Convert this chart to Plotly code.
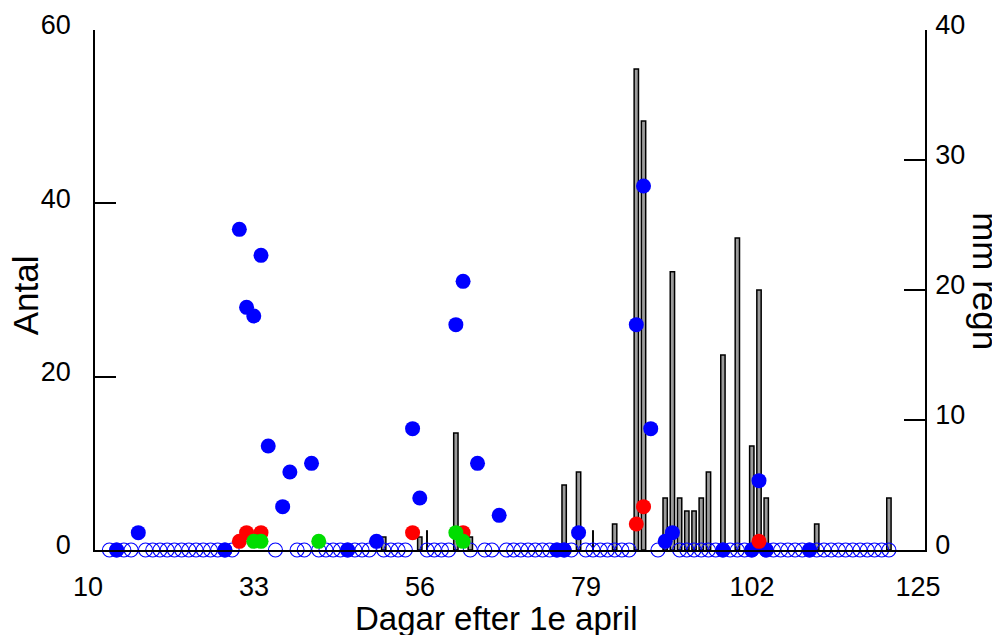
import plotly.graph_objects as go

# ---- data ----
rain_days = [50, 55, 60, 62, 75, 77, 82, 85, 86, 89, 90, 91, 92, 93, 94, 95, 97, 99, 101, 102, 103, 110, 120]
rain_mm = [1, 1, 9, 1, 5, 6, 2, 37, 33, 4, 21.4, 4, 3, 3, 4, 6, 15, 24, 8, 20, 4, 2, 4]
thin_days = [56, 79]
thin_mm = [1.5, 1.5]

blue_days = [13, 16, 28, 30, 31, 32, 33, 34, 36, 37, 40, 45, 49, 54, 55, 60, 61, 63, 66, 74, 75, 77,
             85, 86, 87, 89, 90, 97, 101, 102, 103, 109]
blue_vals = [0, 2, 0, 37, 28, 27, 34, 12, 5, 9, 10, 0, 1, 14, 6, 26, 31, 10, 4, 0, 0, 2,
             26, 42, 14, 1, 2, 0, 0, 8, 0, 0]

red_days = [30, 31, 33, 54, 61, 85, 86, 102]
red_vals = [1, 2, 2, 2, 2, 3, 5, 1]

green_days = [32, 33, 41, 60, 61]
green_vals = [1, 1, 1, 2, 1]

open_days = [12, 13, 14, 15, 17, 18, 19, 20, 21, 22, 23, 24, 25, 26, 27, 28, 29, 35, 38, 39, 41, 42, 43, 44,
             45, 46, 47, 48, 50, 51, 52, 53, 56, 57, 58, 59, 62, 64, 65, 67, 68, 69, 70, 71, 72, 73, 74, 75,
             76, 78, 79, 80, 81, 82, 83, 84, 88, 91, 92, 93, 94, 95, 96, 97, 98, 99, 100, 101, 103, 104, 105,
             106, 107, 108, 109, 110, 111, 112, 113, 114, 115, 116, 117, 118, 119, 120]
open_vals = [0] * len(open_days)

x_ticks = [10, 33, 56, 79, 102, 125]
left_ticks = [0, 20, 40, 60]
right_ticks = [0, 10, 20, 30, 40]

FONT = "Liberation Sans, Arial, sans-serif"

fig = go.Figure()

# rain bars (primary y axis, drawn on the right side)
fig.add_trace(go.Bar(x=rain_days, y=rain_mm, width=0.6, yaxis="y",
                     marker=dict(color="#9b9b9b", line=dict(color="black", width=1.5))))
fig.add_trace(go.Bar(x=thin_days, y=thin_mm, width=0.12, yaxis="y",
                     marker=dict(color="black", line=dict(color="black", width=1))))

# counts (secondary y axis, shown on the left)
fig.add_trace(go.Scatter(x=open_days, y=open_vals, mode="markers", yaxis="y2", cliponaxis=False,
                         marker=dict(symbol="circle-open", size=14, color="#0000ff", line=dict(width=1.1))))
fig.add_trace(go.Scatter(x=blue_days, y=blue_vals, mode="markers", yaxis="y2", cliponaxis=False,
                         marker=dict(symbol="circle", size=15, color="#0000ff")))
fig.add_trace(go.Scatter(x=red_days, y=red_vals, mode="markers", yaxis="y2", cliponaxis=False,
                         marker=dict(symbol="circle", size=15, color="#ff0000")))
fig.add_trace(go.Scatter(x=green_days, y=green_vals, mode="markers", yaxis="y2", cliponaxis=False,
                         marker=dict(symbol="circle", size=15, color="#00dd00")))

fig.update_layout(
    width=1000, height=635,
    margin=dict(l=87, r=83, t=22, b=93, autoexpand=False),
    paper_bgcolor="white", plot_bgcolor="white",
    showlegend=False, barmode="overlay",
    font=dict(family=FONT, color="black"),
    xaxis=dict(range=[10, 125], tickvals=x_ticks, ticks="", showline=True, linecolor="black",
               linewidth=1.5, showgrid=False, zeroline=False, tickfont=dict(size=27),
               ticklabelshift=-7, ticklabelstandoff=12, automargin=False),
    yaxis=dict(range=[0, 40], side="right", tickvals=right_ticks, ticks="inside", ticklen=21,
               tickwidth=1.5, tickcolor="black", showline=True, linecolor="black", linewidth=1.5,
               showgrid=False, zeroline=False, tickfont=dict(size=27),
               ticklabelshift=-5, ticklabelstandoff=3, automargin=False),
    yaxis2=dict(range=[0, 60], side="left", overlaying="y", tickvals=left_ticks, ticks="inside",
                ticklen=21, tickwidth=1.5, tickcolor="black", showline=True, linecolor="black",
                linewidth=1.5, showgrid=False, zeroline=False, tickfont=dict(size=27),
                ticklabelshift=-5, ticklabelstandoff=17, automargin=False),
    annotations=[
        dict(text="Antal", xref="paper", yref="paper", x=-0.0843, y=0.49, textangle=-90,
             showarrow=False, font=dict(size=35), xanchor="center", yanchor="middle"),
        dict(text="mm regn", xref="paper", yref="paper", x=1.0735, y=0.517, textangle=90,
             showarrow=False, font=dict(size=35), xanchor="center", yanchor="middle"),
        dict(text="Dagar efter 1e april", xref="paper", yref="paper", x=0.483, y=-0.132,
             showarrow=False, font=dict(size=33), xanchor="center", yanchor="middle"),
    ],
)

fig.write_html("out.html")
